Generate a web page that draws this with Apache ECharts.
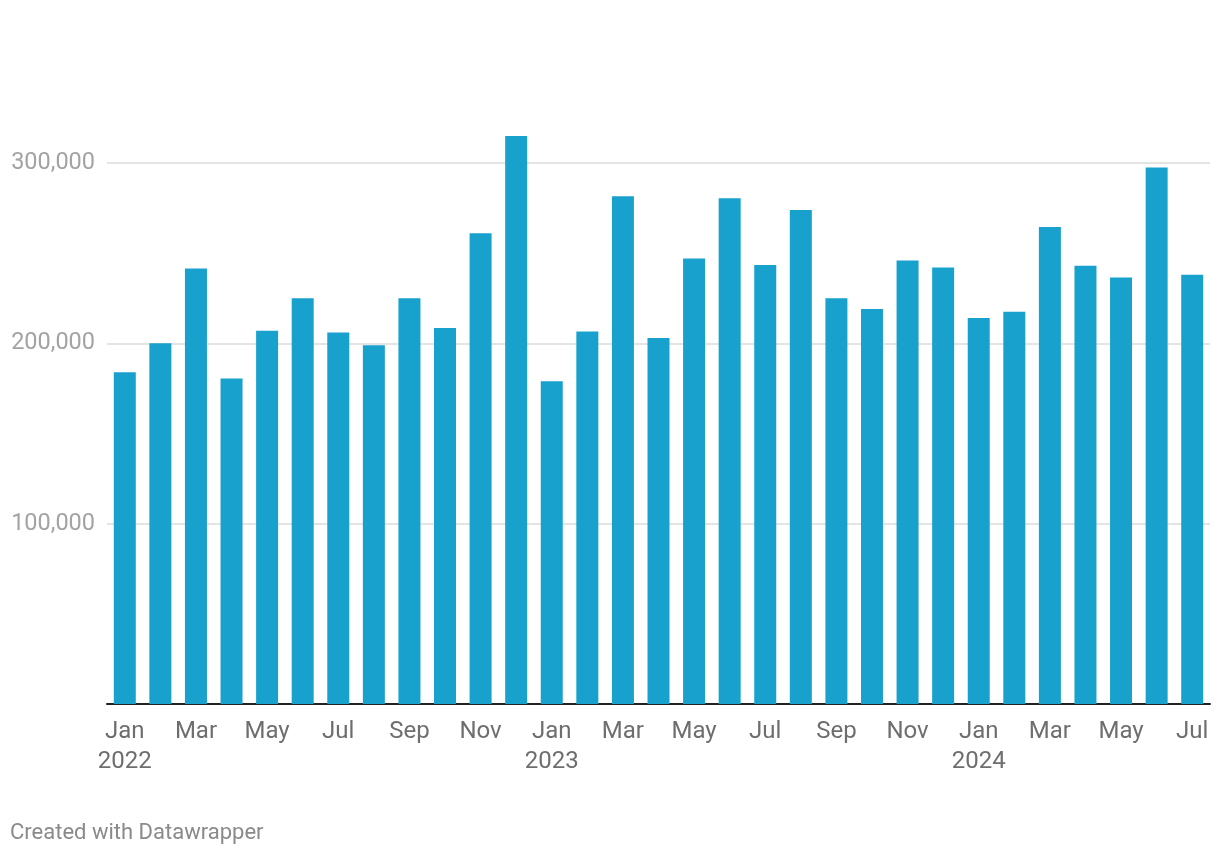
<!DOCTYPE html>
<html>
<head>
<meta charset="utf-8">
<script src="https://cdn.jsdelivr.net/npm/echarts@6/dist/echarts.min.js"></script>
<style>
html,body{margin:0;padding:0;background:#fff;}
#chart{width:1220px;height:856px;}
</style>
</head>
<body>
<div id="chart"></div>
<script>
const months = ["Jan","Feb","Mar","Apr","May","Jun","Jul","Aug","Sep","Oct","Nov","Dec",
  "Jan","Feb","Mar","Apr","May","Jun","Jul","Aug","Sep","Oct","Nov","Dec",
  "Jan","Feb","Mar","Apr","May","Jun","Jul"];
const years = ["2022","2022","2022","2022","2022","2022","2022","2022","2022","2022","2022","2022",
  "2023","2023","2023","2023","2023","2023","2023","2023","2023","2023","2023","2023",
  "2024","2024","2024","2024","2024","2024","2024"];
const values = [184000,200000,241500,180500,207000,225000,206000,199000,225000,208500,261000,315000,
  179000,206500,281500,203000,247000,280500,243500,274000,225000,219000,246000,242000,
  214000,217500,264500,243000,236500,297500,238000];
const yTicks = [0,100000,200000,300000];

const categories = months.map((m,i)=>m+" "+years[i]);

const chart = echarts.init(document.getElementById('chart'), null, {renderer:'canvas'});
chart.setOption({
  animation:false,
  textStyle:{fontFamily:'Roboto'},
  grid:{left:107,right:10,top:163,bottom:152,containLabel:false},
  xAxis:{
    type:'category',
    data:categories,
    axisLine:{lineStyle:{color:'#222',width:2}},
    axisTick:{show:false},
    axisLabel:{
      interval:1,
      margin:13,
      color:'#6e6e6e',
      fontSize:24,
      lineHeight:30,
      fontFamily:'Roboto',
      formatter:function(v){
        const p=v.split(' ');
        return p[0]==='Jan' ? p[0]+'\n'+p[1] : p[0];
      }
    }
  },
  yAxis:{
    type:'value',
    min:0,max:yTicks[yTicks.length-1],interval:100000,
    axisLine:{show:false},axisTick:{show:false},
    splitLine:{lineStyle:{color:'#e4e4e4',width:2}},
    axisLabel:{
      margin:12,
      color:'#a3a3a3',
      fontSize:23.5,
      fontFamily:'Roboto',
      formatter:function(v){return v===0?'':v.toLocaleString('en-US');}
    }
  },
  series:[{
    type:'bar',
    data:values,
    clip:false,
    barWidth:22,
    itemStyle:{color:'#18a1cd'}
  }],
  graphic:[{
    type:'text',
    left:10,top:822,
    style:{text:'Created with Datawrapper',fill:'#8a8a8a',fontSize:22,fontFamily:'Roboto'}
  }]
});
</script>
</body>
</html>
